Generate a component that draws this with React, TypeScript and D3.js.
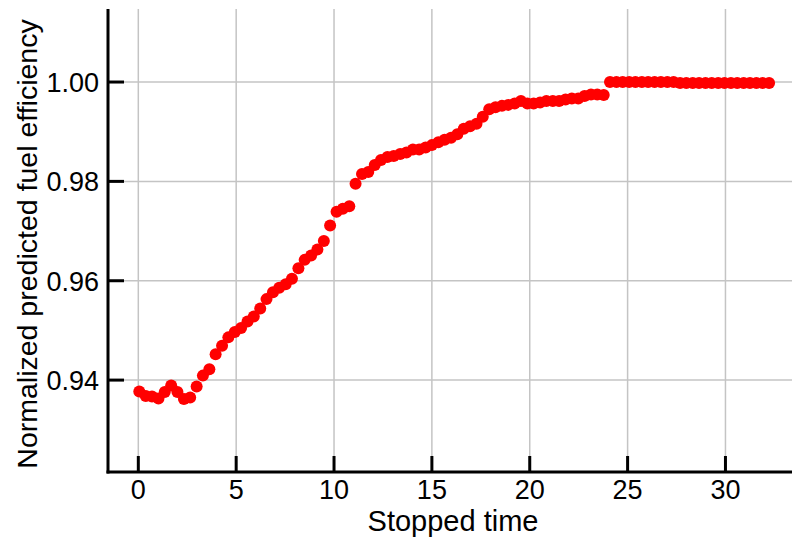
import React from "react";
import * as d3 from "d3";

// Stopped time samples (x) and normalized predicted fuel efficiency (y)
const stoppedTime: number[] = [
  0.05, 0.38, 0.70, 1.03, 1.35, 1.68, 2.00, 2.33, 2.65, 2.98,
  3.30, 3.63, 3.95, 4.28, 4.60, 4.93, 5.25, 5.58, 5.90, 6.23,
  6.55, 6.88, 7.20, 7.53, 7.85, 8.18, 8.50, 8.83, 9.15, 9.48,
  9.80, 10.13, 10.45, 10.78, 11.10, 11.43, 11.75, 12.08, 12.40, 12.73,
  13.05, 13.38, 13.70, 14.03, 14.35, 14.68, 15.00, 15.33, 15.65, 15.98,
  16.30, 16.63, 16.95, 17.28, 17.60, 17.93, 18.25, 18.58, 18.90, 19.23,
  19.55, 19.88, 20.20, 20.53, 20.85, 21.18, 21.50, 21.83, 22.15, 22.48,
  22.80, 23.13, 23.45, 23.78, 24.10, 24.43, 24.75, 25.08, 25.40, 25.73,
  26.05, 26.38, 26.70, 27.03, 27.35, 27.68, 28.00, 28.33, 28.65, 28.98,
  29.30, 29.63, 29.95, 30.28, 30.60, 30.93, 31.25, 31.58, 31.90, 32.23,
];

const efficiency: number[] = [
  0.9377, 0.9368, 0.9367, 0.9363, 0.9376, 0.9389, 0.9376, 0.9362, 0.9365, 0.9387,
  0.9409, 0.9422, 0.9452, 0.9469, 0.9486, 0.9497, 0.9505, 0.9518, 0.9528, 0.9544,
  0.9563, 0.9577, 0.9586, 0.9593, 0.9604, 0.9625, 0.9642, 0.9651, 0.9663, 0.9680,
  0.9711, 0.9739, 0.9745, 0.9750, 0.9795, 0.9815, 0.9819, 0.9833, 0.9843, 0.9849,
  0.9851, 0.9855, 0.9858, 0.9864, 0.9864, 0.9868, 0.9873, 0.9879, 0.9884, 0.9888,
  0.9895, 0.9906, 0.9911, 0.9916, 0.9930, 0.9945, 0.9949, 0.9952, 0.9954, 0.9957,
  0.9962, 0.9957, 0.9957, 0.9959, 0.9962, 0.9962, 0.9962, 0.9965, 0.9967, 0.9967,
  0.9972, 0.9975, 0.9975, 0.9974, 1.0000, 1.0000, 1.0000, 1.0000, 1.0000, 1.0000,
  1.0000, 1.0000, 1.0000, 1.0000, 1.0000, 0.9998, 0.9998, 0.9998, 0.9998, 0.9998,
  0.9998, 0.9998, 0.9998, 0.9998, 0.9998, 0.9998, 0.9998, 0.9998, 0.9998, 0.9998,
];

const xTicks: number[] = [0, 5, 10, 15, 20, 25, 30];
const yTicks: number[] = [0.94, 0.96, 0.98, 1.0];

const W = 792;
const H = 538;
const FONT = "'Liberation Sans', Arial, sans-serif";

export default function App() {
  const left = 108;
  const right = 792;
  const top = 9;
  const bottom = 472;

  const x = d3.scaleLinear().domain([-1.6, 33.4]).range([107, 792]);
  const y = d3.scaleLinear().domain([0.9215, 1.0147]).range([bottom, top]);
  const fmtY = d3.format(".2f");

  const points = stoppedTime.map((t, i) => ({ t, v: efficiency[i] }));

  return (
    <svg
      width={W}
      height={H}
      style={{ position: "absolute", left: 0, top: 0, background: "#fff" }}
      fontFamily={FONT}
    >
      <rect x={0} y={0} width={W} height={H} fill="#fff" />
      {/* grid */}
      <g stroke="#c4c4c4" strokeWidth={1.5}>
        {xTicks.map((t) => (
          <line key={"gx" + t} x1={x(t)} x2={x(t)} y1={top} y2={bottom} />
        ))}
        {yTicks.map((t) => (
          <line key={"gy" + t} x1={left} x2={right} y1={y(t)} y2={y(t)} />
        ))}
      </g>

      {/* scatter */}
      <g fill="#ff0000">
        {points.map((p, i) => (
          <circle key={i} cx={x(p.t)} cy={y(p.v)} r={6} />
        ))}
      </g>

      {/* spines */}
      <g stroke="#000" strokeWidth={3}>
        <line x1={left} x2={left} y1={top} y2={bottom + 1.5} />
        <line x1={left - 1.5} x2={right} y1={bottom} y2={bottom} />
      </g>

      {/* inward ticks */}
      <g stroke="#000" strokeWidth={3}>
        {xTicks.map((t) => (
          <line key={"tx" + t} x1={x(t)} x2={x(t)} y1={bottom} y2={bottom - 16} />
        ))}
        {yTicks.map((t) => (
          <line key={"ty" + t} x1={left} x2={left + 16} y1={y(t)} y2={y(t)} />
        ))}
      </g>

      {/* tick labels */}
      <g fontSize={27} fill="#000">
        {xTicks.map((t) => (
          <text key={"lx" + t} x={x(t)} y={499} textAnchor="middle">
            {t}
          </text>
        ))}
        {yTicks.map((t) => (
          <text key={"ly" + t} x={99} y={y(t) + 10} textAnchor="end">
            {fmtY(t)}
          </text>
        ))}
      </g>

      {/* axis titles */}
      <text x={453} y={531} fontSize={29} textAnchor="middle" fill="#000">
        Stopped time
      </text>
      <text
        transform={`translate(37, 244) rotate(-90)`}
        fontSize={28.5}
        textAnchor="middle"
        fill="#000"
      >
        Normalized predicted fuel efficiency
      </text>
    </svg>
  );
}
